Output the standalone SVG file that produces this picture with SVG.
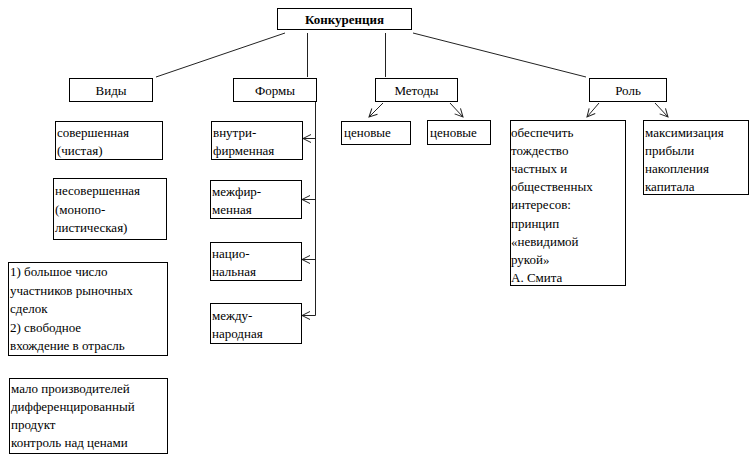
<svg xmlns="http://www.w3.org/2000/svg" width="755" height="458" viewBox="0 0 755 458">
<defs>
<style>
rect{fill:#fff;stroke:#000;stroke-width:1}
text{font-family:"Liberation Serif","Times New Roman",serif;font-size:13px;fill:#000}
.c{text-anchor:middle}
.b{font-weight:bold}
.ln{stroke:#222;stroke-width:1;fill:none}
</style>
<marker id="ar" markerWidth="10" markerHeight="10" refX="9" refY="5" orient="auto" markerUnits="userSpaceOnUse">
<path d="M1,1 L9,5 L1,9" fill="none" stroke="#222" stroke-width="1"/>
</marker>
</defs>
<rect x="0" y="0" width="755" height="458" style="fill:#fff;stroke:none"/>
<g id="connectors">
<line class="ln" x1="285" y1="33" x2="156" y2="77"/>
<line class="ln" x1="307.5" y1="33" x2="307.5" y2="77"/>
<line class="ln" x1="385.5" y1="33" x2="385.5" y2="77"/>
<line class="ln" x1="413" y1="33" x2="586" y2="77"/>
<line class="ln" x1="315.5" y1="102" x2="315.5" y2="315.5"/>
<line class="ln" x1="315.5" y1="138.5" x2="303" y2="138.5" marker-end="url(#ar)"/>
<line class="ln" x1="315.5" y1="199.5" x2="302" y2="199.5" marker-end="url(#ar)"/>
<line class="ln" x1="315.5" y1="259.5" x2="302" y2="259.5" marker-end="url(#ar)"/>
<line class="ln" x1="315.5" y1="315.5" x2="302" y2="315.5" marker-end="url(#ar)"/>
<line class="ln" x1="383" y1="103" x2="369" y2="117" marker-end="url(#ar)"/>
<line class="ln" x1="450" y1="103" x2="463" y2="117" marker-end="url(#ar)"/>
<line class="ln" x1="599" y1="103" x2="587" y2="117" marker-end="url(#ar)"/>
<line class="ln" x1="655" y1="103" x2="668" y2="117" marker-end="url(#ar)"/>
</g>
<g id="konkurencia"><rect x="277.5" y="8.5" width="134" height="21"/><text class="c b" x="344.5" y="24">Конкуренция</text></g>
<g id="vidy"><rect x="69.5" y="78.5" width="83" height="23"/><text class="c" x="111" y="95">Виды</text></g>
<g id="formy"><rect x="233.5" y="78.5" width="83" height="23"/><text class="c" x="275" y="95">Формы</text></g>
<g id="metody"><rect x="375.5" y="78.5" width="82" height="23"/><text class="c" x="416.5" y="95">Методы</text></g>
<g id="rol"><rect x="589.5" y="78.5" width="77" height="23"/><text class="c" x="628" y="95">Роль</text></g>
<g id="sovershennaya"><rect x="55.5" y="121.5" width="107" height="38"/><text x="57" y="137">совершенная</text><text x="57" y="155">(чистая)</text></g>
<g id="nesovershennaya"><rect x="53.5" y="178.5" width="113" height="61"/><text x="55" y="195">несовершенная</text><text x="55" y="214">(монопо-</text><text x="55" y="232">листическая)</text></g>
<g id="priznaki1"><rect x="8.5" y="262.5" width="159" height="93"/><text x="10" y="276">1) большое число</text><text x="10" y="295">участников рыночных</text><text x="10" y="313">сделок</text><text x="10" y="332">2) свободное</text><text x="10" y="350">вхождение в отрасль</text></g>
<g id="priznaki2"><rect x="9.5" y="378.5" width="158" height="75"/><text x="11" y="393">мало производителей</text><text x="11" y="411">дифференцированный</text><text x="11" y="429">продукт</text><text x="11" y="447">контроль над ценами</text></g>
<g id="vnutri"><rect x="211.5" y="121.5" width="91" height="38"/><text x="213" y="137">внутри-</text><text x="213" y="155">фирменная</text></g>
<g id="mezhfir"><rect x="210.5" y="180.5" width="91" height="38"/><text x="212" y="196">межфир-</text><text x="212" y="214">менная</text></g>
<g id="nacion"><rect x="210.5" y="242.5" width="91" height="38"/><text x="212" y="258">нацио-</text><text x="212" y="276">нальная</text></g>
<g id="mezhdunar"><rect x="210.5" y="303.5" width="91" height="40"/><text x="212" y="320">между-</text><text x="212" y="338">народная</text></g>
<g id="cenovye1"><rect x="341.5" y="121.5" width="69" height="23"/><text x="344" y="137">ценовые</text></g>
<g id="cenovye2"><rect x="427.5" y="120.5" width="63" height="24"/><text x="430" y="137">ценовые</text></g>
<g id="obespechit"><rect x="510.5" y="120.5" width="115" height="165"/><text x="511" y="137">обеспечить</text><text x="511" y="155">тождество</text><text x="511" y="173">частных и</text><text x="511" y="191">общественных</text><text x="511" y="209">интересов:</text><text x="511" y="228">принцип</text><text x="511" y="246">«невидимой</text><text x="511" y="264">рукой»</text><text x="511" y="282">А. Смита</text></g>
<g id="maksimizaciya"><rect x="643.5" y="120.5" width="105" height="74"/><text x="645" y="137">максимизация</text><text x="645" y="155">прибыли</text><text x="645" y="173">накопления</text><text x="645" y="191">капитала</text></g>
</svg>
